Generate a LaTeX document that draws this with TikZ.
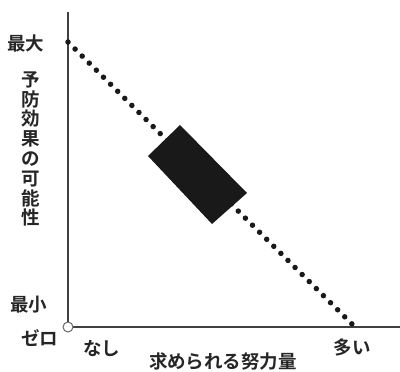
\documentclass[tikz,border=0pt]{standalone}
\usepackage{fontspec}
\newfontfamily\jp{Noto Sans CJK JP Bold}
\begin{document}
\begin{tikzpicture}[x=1pt,y=-1pt,
  axis/.style={draw=black!75,line width=2pt},
  lab/.style={font=\jp\fontsize{18.5}{19.8}\selectfont,text=black!85,inner sep=0pt},
  dots/.style={draw=black!90,line width=5.5pt,line cap=round,dash pattern=on 0pt off 10pt}]
\useasboundingbox (0,0) rectangle (400,372);
\coordinate (top) at (68,12);
\coordinate (org) at (68,327);
\coordinate (xend) at (400,327);
\coordinate (ds) at (68,42);
\coordinate (de) at (355,327);
\draw[axis] (top) -- (org) -- (xend);
\draw[dots] (ds) -- (de);
\fill[black!90] (180,125) -- (247,193) -- (212,224) -- (148,156) -- cycle;
\node[circle,draw=black!60,fill=white,line width=1pt,minimum size=10pt,inner sep=0pt] (o) at (org) {};
\node[lab] (max) at (26,43) {最大};
\node[lab,align=center] (ylab) at (31,149) {予\\防\\効\\果\\の\\可\\能\\性};
\node[lab] (min) at (29,305) {最小};
\node[lab] (zero) at (40,338) {ゼロ};
\node[lab] (none) at (102,349) {なし};
\node[lab] (many) at (352,347) {多い};
\node[lab] (xlab) at (223,361) {求められる努力量};
\end{tikzpicture}
\end{document}
